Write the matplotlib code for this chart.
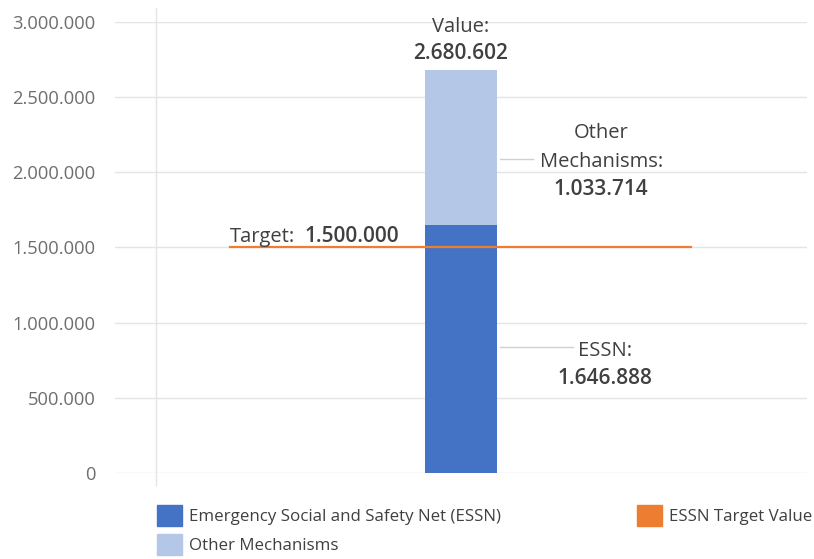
import matplotlib
matplotlib.use("Agg")
import matplotlib.pyplot as plt
from matplotlib.patches import Patch

# data
categories = ["ESSN Progress"]
essn = [1646888]
other = [1033714]
target = 1500000
yticks = [0, 500000, 1000000, 1500000, 2000000, 2500000, 3000000]
series_names = ["Emergency Social and Safety Net (ESSN)", "Other Mechanisms", "ESSN Target Value"]


def dotted(v):
    return f"{v:,}".replace(",", ".")


plt.rcParams["font.family"] = ["Open Sans", "DejaVu Sans"]

DARK = "#4472C4"
LIGHT = "#B4C7E7"
ORANGE = "#ED7D31"
GRID = "#E4E4E4"
TXT = "#404040"
LEAD = "#D0D0D0"

fig = plt.figure(figsize=(8.14, 5.59), dpi=100)
ax = fig.add_axes([115 / 814, 86 / 559, 692 / 814, 451 / 559])

x = [0]
ax.bar(x, essn, width=0.208, color=DARK, zorder=2)
ax.bar(x, other, bottom=essn, width=0.208, color=LIGHT, zorder=2)
ax.plot([-0.667, 0.665], [target, target], color=ORANGE, lw=1.6, zorder=3)

ax.set_xlim(-1, 1)
ax.set_ylim(0, 3000000)
ax.set_yticks(yticks)
ax.set_yticklabels([dotted(v) for v in yticks], color="#6E6E6E", fontsize=13.2)
ax.tick_params(axis="y", length=0, pad=14)
ax.set_xticks([])
ax.grid(axis="y", color=GRID, lw=1, zorder=0)
for s in ax.spines.values():
    s.set_visible(False)

# vertical axis line
ax.plot([-0.8815, -0.8815], [-0.027, 1.031], transform=ax.get_xaxis_transform(),
        color=GRID, lw=1, clip_on=False, zorder=1)

LBL = 14.5
NUM = 15

# total value label
total = essn[0] + other[0]
ax.text(0, total + 254000, "Value:", ha="center", va="baseline", fontsize=LBL, color=TXT)
ax.text(0, total + 74000, dotted(total), ha="center", va="baseline", fontsize=NUM,
        color=TXT, fontweight="semibold")

# target label
ax.text(-0.668, target + 37000, "Target:", ha="left", va="baseline", fontsize=LBL, color=TXT)
ax.text(-0.451, target + 37000, dotted(target), ha="left", va="baseline", fontsize=NUM,
        color=TXT, fontweight="semibold")

# other mechanisms label
ym = essn[0] + other[0] / 2
ax.plot([0.113, 0.208], [ym - 74000, ym - 74000], color=LEAD, lw=1)
ax.text(0.405, ym + 65000, "Other", ha="center", va="baseline", fontsize=LBL, color=TXT)
ax.text(0.405, ym - 128000, "Mechanisms:", ha="center", va="baseline", fontsize=LBL, color=TXT)
ax.text(0.405, ym - 314000, dotted(other[0]), ha="center", va="baseline", fontsize=NUM,
        color=TXT, fontweight="semibold")

# essn label
ye = essn[0] / 2
ax.plot([0.113, 0.324], [ye + 15000, ye + 15000], color=LEAD, lw=1)
ax.text(0.416, ye - 45000, "ESSN:", ha="center", va="baseline", fontsize=LBL, color=TXT)
ax.text(0.416, ye - 231000, dotted(essn[0]), ha="center", va="baseline", fontsize=NUM,
        color=TXT, fontweight="semibold")

leg_kw = dict(loc="upper left", frameon=False, fontsize=12.2, handlelength=1.47,
              handleheight=1.52, handletextpad=0.4, labelspacing=0.47,
              borderpad=0, borderaxespad=0, labelcolor=TXT)
fig.legend(handles=[Patch(color=DARK, label=series_names[0]),
                    Patch(color=LIGHT, label=series_names[1])],
           bbox_to_anchor=(157 / 814, 1 - 505 / 559), **leg_kw)
fig.legend(handles=[Patch(color=ORANGE, label=series_names[2])],
           bbox_to_anchor=(637 / 814, 1 - 505 / 559), **leg_kw)

fig.savefig("out.png", dpi=100)
